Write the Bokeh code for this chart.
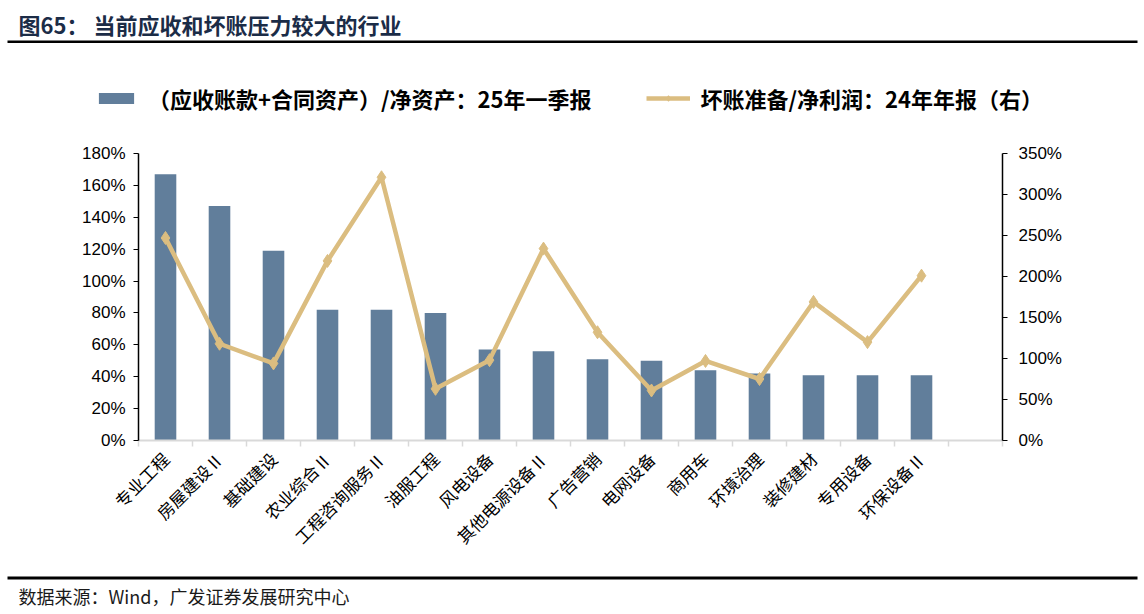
from bokeh.plotting import figure
from bokeh.layouts import column
from bokeh.models import (Range1d, LinearAxis, FixedTicker, PrintfTickFormatter,
                          Legend, LegendItem, Label, BoxAnnotation)
from bokeh.embed import file_html
from bokeh.resources import INLINE
from math import pi

# ---------------- data ----------------
categories = ["专业工程", "房屋建设Ⅱ", "基础建设", "农业综合Ⅱ", "工程咨询服务Ⅱ", "油服工程",
              "风电设备", "其他电源设备Ⅱ", "广告营销", "电网设备", "商用车", "环境治理",
              "装修建材", "专用设备", "环保设备Ⅱ"]
ar_ratio = [167, 147, 119, 82, 82, 80, 57, 56, 51, 50, 44, 42, 41, 41, 41]      # 左轴 %
bad_ratio = [247, 118, 94, 219, 321, 63, 98, 234, 132, 61, 97, 75, 169, 120, 201]  # 右轴 %
left_ticks = [0, 20, 40, 60, 80, 100, 120, 140, 160, 180]
right_ticks = [0, 50, 100, 150, 200, 250, 300, 350]
bar_label = "（应收账款+合同资产）/净资产：25年一季报"
line_label = "坏账准备/净利润：24年年报（右）"
title_head = "图65："
title_text = "当前应收和坏账压力较大的行业"
source_text = "数据来源：Wind，广发证券发展研究中心"

# ---------------- style ----------------
BAR = "#617E9B"
LINE = "#DBBD80"
TITLE_C = "#1B2C47"
CJK = "Noto Sans CJK SC"
NUM = "Liberation Sans"

W = 1144
HEAD_H, MAIN_H, FOOT_H = 125, 445, 44
FL, FR, FT, FB = 138, 1002, 153, 440   # frame edges in page px


def no_align(fig):
    if "frame_align" in fig.properties():
        fig.frame_align = False


# ---------------- header: title, rule, legend ----------------
head = figure(width=W, height=HEAD_H, output_backend="svg", toolbar_location=None,
              x_range=Range1d(0, W), y_range=Range1d(HEAD_H, 0),
              min_border=0, x_axis_location=None, y_axis_location=None,
              background_fill_color="white", border_fill_color="white")
no_align(head)
head.outline_line_color = None
head.grid.visible = False
head.add_layout(Label(x=18, y=23, text=title_head, text_font=CJK, text_font_size="22px",
                      text_font_style="bold", text_color=TITLE_C, text_baseline="middle"))
head.add_layout(Label(x=93, y=23, text=title_text, text_font=CJK, text_font_size="22px",
                      text_font_style="bold", text_color=TITLE_C, text_baseline="middle"))
head.add_layout(BoxAnnotation(left=7, right=1137, top=40, bottom=42.5,
                              fill_color="black", fill_alpha=1, line_color=None))

# legend swatches: proxy renderers styled like the main chart's series,
# anchored just outside the header frame so only their legend glyphs show
lg_bar = head.vbar(x=[-100], top=[0], width=1, fill_color=BAR, line_color=None)
lg_line = head.line(x=[-100, -90], y=[0, 0], line_color=LINE, line_width=4.5)
lg_pt = head.scatter(x=[-100], y=[0], marker="diamond", size=13, fill_color=LINE, line_color=LINE)
legend = Legend(items=[LegendItem(label=bar_label, renderers=[lg_bar]),
                       LegendItem(label=line_label, renderers=[lg_line, lg_pt])],
                orientation="horizontal", location=(94, HEAD_H - 114),
                padding=0, margin=0, spacing=55, label_standoff=10,
                glyph_width=44, glyph_height=14, label_height=24,
                label_text_font=CJK, label_text_font_size="22px",
                label_text_font_style="bold", label_text_color="black",
                background_fill_alpha=0, border_line_color=None)
head.add_layout(legend)

# ---------------- main chart ----------------
n_slots = len(categories) + 1
xs = list(range(len(categories)))
top0 = HEAD_H

p = figure(width=W, height=MAIN_H, output_backend="svg", toolbar_location=None,
           x_range=Range1d(-0.5, n_slots - 0.5), y_range=Range1d(0, 180),
           min_border_left=FL, min_border_right=W - FR,
           min_border_top=FT - top0, min_border_bottom=top0 + MAIN_H - FB,
           background_fill_color="white", border_fill_color="white")
p.outline_line_color = None
p.xgrid.visible = False
p.ygrid.visible = False
p.extra_y_ranges = {"right": Range1d(0, 350)}

bars = p.vbar(x=xs, top=ar_ratio, width=0.4, fill_color=BAR, line_color=None)
ln = p.line(x=xs, y=bad_ratio, y_range_name="right", line_color=LINE, line_width=4.5)
sc = p.scatter(x=xs, y=bad_ratio, y_range_name="right", marker="diamond", size=13,
               fill_color=LINE, line_color=LINE)

xa = p.xaxis[0]
xa.ticker = FixedTicker(ticks=xs, minor_ticks=[i - 0.5 for i in range(n_slots + 1)])
xa.major_label_overrides = {i: c for i, c in enumerate(categories)}
xa.major_label_orientation = pi / 4
xa.major_tick_out = 0
xa.major_tick_in = 0
xa.minor_tick_out = 6
xa.minor_tick_in = 0
xa.minor_tick_line_color = "#D9D9D9"
xa.minor_tick_line_width = 1.5
xa.axis_line_color = "#D9D9D9"
xa.axis_line_width = 2
xa.major_label_text_font = CJK
xa.major_label_text_font_size = "17px"
xa.major_label_text_color = "black"
xa.major_label_standoff = 9

ya = p.yaxis[0]
ya.ticker = FixedTicker(ticks=left_ticks)
ya.formatter = PrintfTickFormatter(format="%d%%")
ya.axis_line_color = "black"
ya.axis_line_width = 1.5
ya.major_tick_out = 5
ya.major_tick_in = 0
ya.major_tick_line_color = "black"
ya.minor_tick_line_color = None
ya.major_label_text_font = NUM
ya.major_label_text_font_size = "17px"
ya.major_label_text_color = "black"
ya.major_label_standoff = 8

ra = LinearAxis(y_range_name="right", ticker=FixedTicker(ticks=right_ticks),
                formatter=PrintfTickFormatter(format="%d%%"))
ra.axis_line_color = "black"
ra.axis_line_width = 1.5
ra.major_tick_out = 5
ra.major_tick_in = 0
ra.major_tick_line_color = "black"
ra.minor_tick_line_color = None
ra.major_label_text_font = NUM
ra.major_label_text_font_size = "17px"
ra.major_label_text_color = "black"
ra.major_label_standoff = 11
p.add_layout(ra, "right")

# ---------------- footer: rule and source ----------------
foot = figure(width=W, height=FOOT_H, output_backend="svg", toolbar_location=None,
              x_range=Range1d(0, W), y_range=Range1d(FOOT_H, 0),
              min_border=0, x_axis_location=None, y_axis_location=None,
              background_fill_color="white", border_fill_color="white")
no_align(foot)
foot.outline_line_color = None
foot.grid.visible = False
foot.add_layout(BoxAnnotation(left=7, right=1137, top=6, bottom=9,
                              fill_color="black", fill_alpha=1, line_color=None))
foot.add_layout(Label(x=18, y=25, text=source_text, text_font=CJK, text_font_size="18px",
                      text_color="#1A1A1A", text_baseline="middle"))

layout = column(head, p, foot, spacing=0)
open("out.html", "w").write(file_html(layout, INLINE))
